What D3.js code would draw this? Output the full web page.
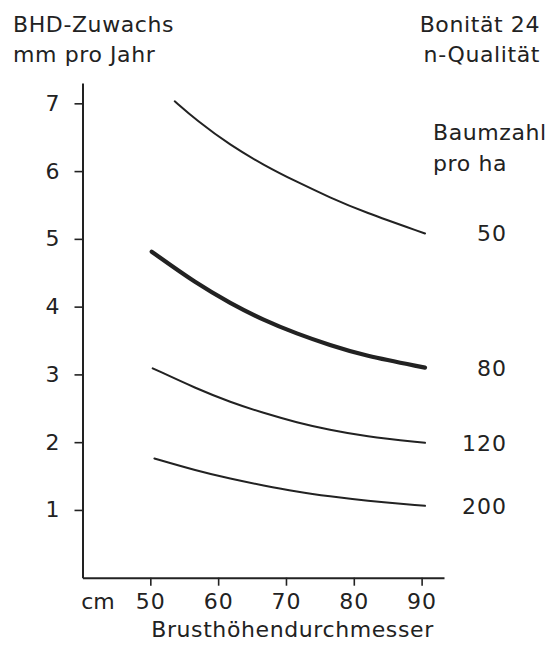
<!DOCTYPE html>
<html>
<head>
<meta charset="utf-8">
<script src="https://cdn.jsdelivr.net/npm/d3@7"></script>
<style>
  body { margin: 0; background: #fff; }
  text { font-family: "DejaVu Sans", sans-serif; fill: #222; }
</style>
</head>
<body>
<div id="chart"></div>
<script>
// values (x = Brusthöhendurchmesser cm, y = BHD-Zuwachs mm/Jahr)
const treeCounts = ["50", "80", "120", "200"];
const dbh50 = [53.6, 56.8, 61.8, 66.7, 71.6, 76.5, 81.4, 90.5];
const inc50 = [7.03, 6.75, 6.38, 6.09, 5.84, 5.61, 5.40, 5.08];
const dbh80 = [50.2, 56.8, 61.8, 66.7, 71.6, 76.5, 81.4, 90.5];
const inc80 = [4.81, 4.34, 4.05, 3.80, 3.60, 3.43, 3.28, 3.10];
const dbh120 = [50.35, 56.8, 61.8, 66.7, 71.6, 76.5, 81.4, 90.5];
const inc120 = [3.09, 2.79, 2.59, 2.43, 2.29, 2.18, 2.09, 1.99];
const dbh200 = [50.6, 56.8, 61.8, 66.7, 71.6, 76.5, 81.4, 90.5];
const inc200 = [1.76, 1.58, 1.46, 1.36, 1.27, 1.20, 1.14, 1.06];
const xTicks = [50, 60, 70, 80, 90];
const yTicks = [1, 2, 3, 4, 5, 6, 7];

const series = [
  { label: treeCounts[0], x: dbh50, y: inc50, bold: false },
  { label: treeCounts[1], x: dbh80, y: inc80, bold: true },
  { label: treeCounts[2], x: dbh120, y: inc120, bold: false },
  { label: treeCounts[3], x: dbh200, y: inc200, bold: false }
];

const width = 549, height = 649;
const ink = "#222";

const svg = d3.select("#chart")
  .append("svg")
  .attr("width", width)
  .attr("height", height);

// scales
const xScale = d3.scaleLinear().domain([40, 93.3]).range([82.5, 444]);
const yScale = d3.scaleLinear().domain([0, 7.3]).range([577.7, 83]);

// axes
const yAxis = d3.axisLeft(yScale)
  .tickValues(yTicks)
  .tickSize(8)
  .tickSizeOuter(0)
  .tickPadding(14)
  .tickFormat(d3.format("d"));

const xAxis = d3.axisBottom(xScale)
  .tickValues(xTicks)
  .tickSize(8)
  .tickSizeOuter(0)
  .tickFormat(d3.format("d"));

const gy = svg.append("g")
  .attr("transform", `translate(${xScale(40)},0)`)
  .call(yAxis);

const gx = svg.append("g")
  .attr("transform", `translate(0,${yScale(0)})`)
  .call(xAxis);

for (const g of [gx, gy]) {
  g.attr("font-family", null).attr("font-size", null);
  g.select(".domain").attr("stroke", ink).attr("stroke-width", 2);
  g.selectAll(".tick line").attr("stroke", ink).attr("stroke-width", 1.6);
  g.selectAll(".tick text")
    .style("font-size", "22px")
    .style("letter-spacing", "1px")
    .attr("fill", ink);
}
gx.selectAll(".tick text").attr("y", 23).attr("dy", "0.36em");

// unit left of x tick labels
svg.append("text")
  .attr("x", 98)
  .attr("y", yScale(0) + 23)
  .attr("dy", "0.36em")
  .attr("text-anchor", "middle")
  .style("font-size", "22px")
  .text("cm");

// curves
const line = d3.line()
  .x(d => xScale(d[0]))
  .y(d => yScale(d[1]))
  .curve(d3.curveBasis);

for (const s of series) {
  const pts = s.x.map((v, i) => [v, s.y[i]]);
  svg.append("path")
    .datum(pts)
    .attr("d", line)
    .attr("fill", "none")
    .attr("stroke", ink)
    .attr("stroke-linecap", "round")
    .attr("stroke-width", s.bold ? 4.2 : 2);

  svg.append("text")
    .attr("x", 507)
    .attr("y", yScale(s.y[s.y.length - 1]))
    .attr("dy", "0.36em")
    .attr("text-anchor", "end")
    .style("font-size", "22px")
    .style("letter-spacing", "1px")
    .text(s.label);
}

// titles
const title = (txt, x, y, anchor) => svg.append("text")
  .attr("x", x)
  .attr("y", y)
  .attr("text-anchor", anchor)
  .style("font-size", "22px")
  .style("letter-spacing", "0.6px")
  .text(txt);

title("BHD-Zuwachs", 13, 31.5, "start");
title("mm pro Jahr", 13, 61.5, "start");
title("Bonität 24", 540, 31.5, "end");
title("n-Qualität", 540, 61.5, "end");
title("Baumzahl", 433, 140, "start");
title("pro ha", 433, 170.5, "start");
title("Brusthöhendurchmesser", 292.5, 637, "middle");
</script>
</body>
</html>
